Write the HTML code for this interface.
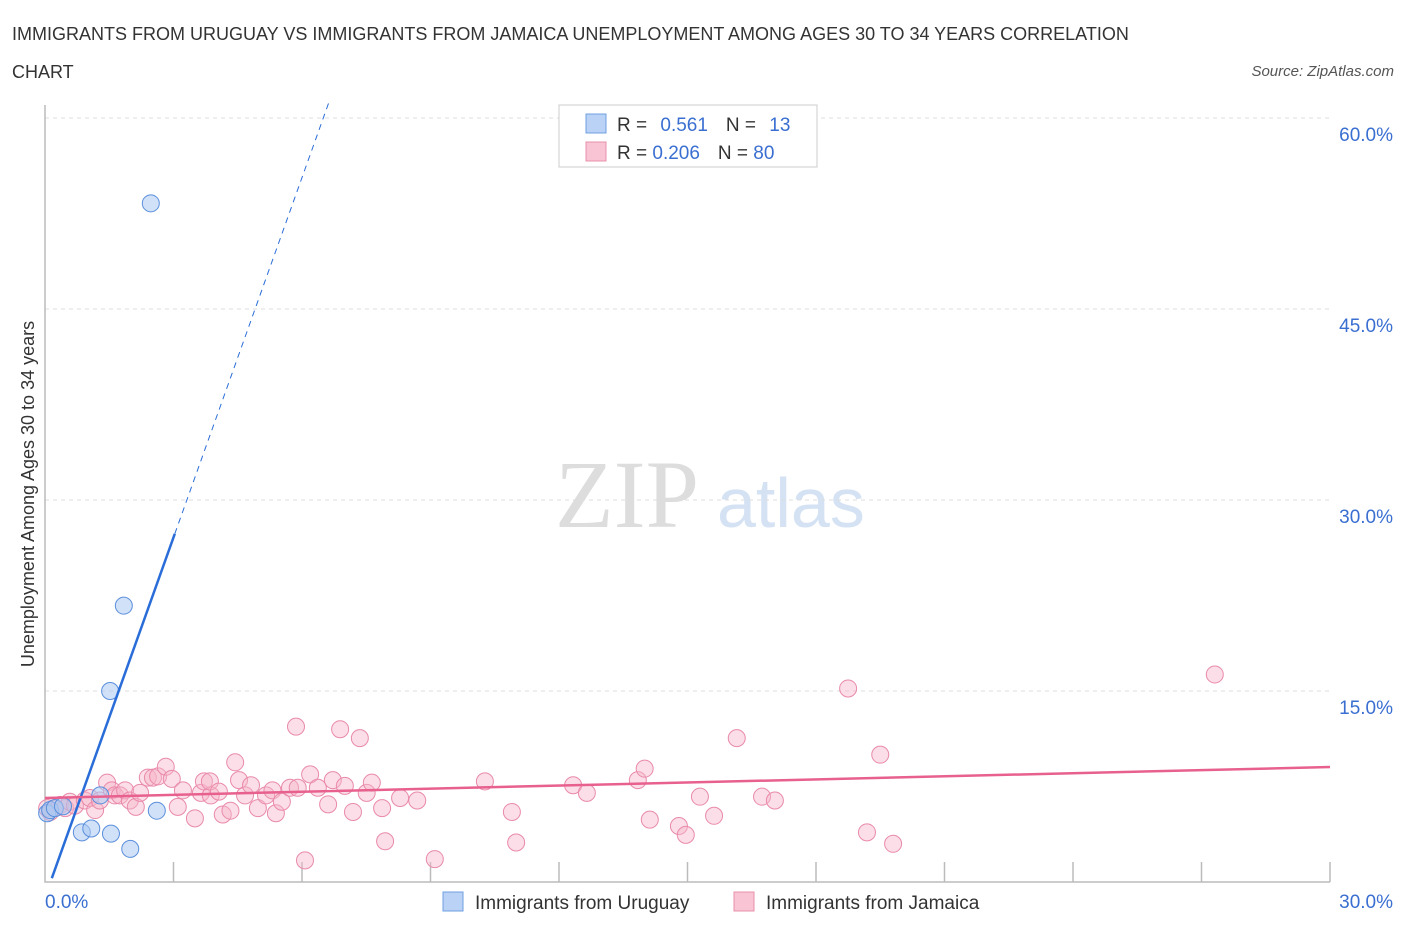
<!DOCTYPE html>
<html><head><meta charset="utf-8"><style>
body{margin:0;background:#fff;font-family:"Liberation Sans",sans-serif;}
svg text{font-family:"Liberation Sans",sans-serif;}
</style></head><body>
<svg id="chart" width="1406" height="930" xmlns="http://www.w3.org/2000/svg">
<text x="12" y="40" font-size="18" fill="#333">IMMIGRANTS FROM URUGUAY VS IMMIGRANTS FROM JAMAICA UNEMPLOYMENT AMONG AGES 30 TO 34 YEARS CORRELATION</text>
<text x="12" y="78" font-size="18" fill="#333">CHART</text>
<text x="1394" y="76" font-size="15" fill="#555" text-anchor="end" font-style="italic">Source: ZipAtlas.com</text>
<text transform="translate(34,494) rotate(-90)" font-size="18" fill="#333" text-anchor="middle">Unemployment Among Ages 30 to 34 years</text>
<text x="555" y="527" font-size="96" fill="#ddd" font-family="Liberation Serif" style="font-family:'Liberation Serif'">ZIP</text>
<text x="717" y="527" font-size="70" fill="#d4e2f4">atlas</text>
<g id="grid"></g>
<g id="axes"></g>
<g id="marks"></g>
<g>
<rect x="559" y="105" width="258" height="62" fill="#fff" stroke="#ccc"/>
<rect x="586" y="114" width="20" height="19" fill="#b9d2f5" stroke="#6f9fe0"/>
<rect x="586" y="142" width="20" height="19" fill="#f9c4d4" stroke="#e890ab"/>
<text x="617" y="131" font-size="19" fill="#333">R = <tspan fill="#3a6fd1" dx="8">0.561</tspan><tspan dx="18" fill="#333">N = </tspan><tspan dx="8" fill="#3a6fd1">13</tspan></text>
<text x="617" y="159" font-size="19" fill="#333">R = <tspan fill="#3a6fd1">0.206</tspan><tspan dx="18" fill="#333">N = </tspan><tspan fill="#3a6fd1">80</tspan></text>
</g>
<g><rect x="443" y="892" width="20" height="19" fill="#b9d2f5" stroke="#6f9fe0"/><text x="475" y="909" font-size="19" fill="#333">Immigrants from Uruguay</text></g>
<g><rect x="734" y="892" width="20" height="19" fill="#f9c4d4" stroke="#e890ab"/><text x="766" y="909" font-size="19" fill="#333">Immigrants from Jamaica</text></g>
</svg>
<script>
const yTicks=[15,30,45,60];
const yTickLabels=["15.0%","30.0%","45.0%","60.0%"];
const xTickLabels=["0.0%","30.0%"];
const uruguayX=[0.05,0.12,0.23,0.42,0.86,1.08,1.29,1.52,1.54,1.84,1.99,2.47,2.61];
const uruguayY=[5.4,5.65,5.8,5.95,3.9,4.2,6.8,15.0,3.8,21.7,2.6,53.3,5.6];
const jamaicaX=[0.05,0.12,0.23,0.35,0.47,0.58,0.7,0.93,1.05,1.17,1.28,1.45,1.56,1.63,1.75,1.87,1.98,2.12,2.22,2.4,2.52,2.64,2.82,2.96,3.1,3.22,3.5,3.64,3.71,3.87,3.85,4.06,4.15,4.33,4.44,4.53,4.67,4.81,4.97,5.16,5.31,5.39,5.53,5.72,5.86,5.9,6.07,6.19,6.37,6.61,6.72,6.89,7.0,7.19,7.35,7.51,7.63,7.87,7.94,8.29,8.69,9.1,10.27,10.9,11.0,12.33,12.65,13.84,14.0,14.12,14.8,14.96,15.29,15.62,16.15,16.74,17.04,18.75,19.19,19.5,19.8,27.31];
const jamaicaY=[5.8,5.5,5.8,6.05,5.8,6.3,6.0,6.4,6.6,5.65,6.4,7.8,7.2,6.8,6.8,7.2,6.4,5.9,7.0,8.2,8.2,8.3,9.05,8.1,5.9,7.2,5.0,7.0,7.9,6.8,7.9,7.1,5.3,5.6,9.4,8.0,6.8,7.6,5.8,6.8,7.2,5.4,6.3,7.4,12.2,7.4,1.7,8.45,7.4,6.1,8.0,12.0,7.55,5.5,11.3,7.0,7.8,5.8,3.2,6.6,6.4,1.8,7.9,5.5,3.1,7.6,7.0,8.0,8.9,4.9,4.4,3.7,6.7,5.2,11.3,6.7,6.4,15.2,3.9,10.0,3.0,16.3];
const uruguayTrend=[-1.2,9.42];
const jamaicaTrend=[6.6,0.081];
const X=v=>45+v/30*1285, Y=v=>882-v/15*191;
const NS="http://www.w3.org/2000/svg";
function mk(parent,tag,attrs){const e=document.createElementNS(NS,tag);for(const k in attrs)e.setAttribute(k,attrs[k]);document.getElementById(parent).appendChild(e);return e;}
yTicks.forEach((t,i)=>{
 const l=mk('grid','line',{x1:45,x2:1330,y1:Y(t),y2:Y(t),stroke:'#ddd','stroke-dasharray':'4,4'});
 
 
 const tx=mk('grid','text',{x:1393,y:Y(t)+23,'font-size':19,fill:'#3a6fd1','text-anchor':'end'});tx.textContent=yTickLabels[i];
 
 
});
const ax=mk('axes','path',{d:'M45,105 L45,882 L1330,882',fill:'none',stroke:'#bbb','stroke-width':1.5});


for(let i=1;i<=10;i++){const x=X(i*3);const t=mk('axes','line',{x1:x,x2:x,y1:862,y2:882,stroke:'#bbb','stroke-width':1.5});
 
 }
const xl0=mk('axes','text',{x:45,y:908,'font-size':19,fill:'#3a6fd1'});xl0.textContent=xTickLabels[0];


const xl1=mk('axes','text',{x:1393,y:908,'font-size':19,fill:'#3a6fd1','text-anchor':'end'});xl1.textContent=xTickLabels[1];


jamaicaX.forEach((x,i)=>{const c=mk('marks','circle',{cx:X(x),cy:Y(jamaicaY[i]),r:8.5,fill:'#f7b6ca','fill-opacity':0.45,stroke:'#e98aaa','stroke-width':1});
 
 });
uruguayX.forEach((x,i)=>{const c=mk('marks','circle',{cx:X(x),cy:Y(uruguayY[i]),r:8.5,fill:'#a9c8f2','fill-opacity':0.55,stroke:'#5b8fdc','stroke-width':1});
 
 });
const uy=x=>uruguayTrend[0]+uruguayTrend[1]*x;
const x0=(0.3-uruguayTrend[0])/uruguayTrend[1], x1=3.03, x2=(61.5-uruguayTrend[0])/uruguayTrend[1];
const bl=mk('marks','line',{x1:X(x0),y1:Y(uy(x0)),x2:X(x1),y2:Y(uy(x1)),stroke:'#2a6dd8','stroke-width':2.5});


const bd=mk('marks','line',{x1:X(x1),y1:Y(uy(x1)),x2:X(x2),y2:Y(uy(x2)),stroke:'#2a6dd8','stroke-width':1,'stroke-dasharray':'6,5'});


const pl=mk('marks','line',{x1:X(0),y1:Y(jamaicaTrend[0]),x2:X(30),y2:Y(jamaicaTrend[0]+jamaicaTrend[1]*30),stroke:'#e8608e','stroke-width':2.5});


</script>
</body></html>
